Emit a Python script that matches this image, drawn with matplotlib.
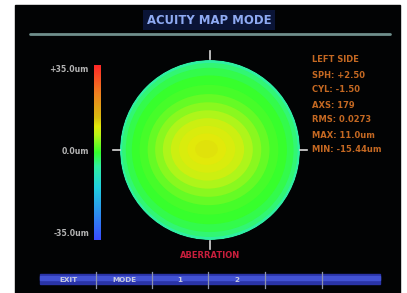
import numpy as np
import matplotlib
matplotlib.use("Agg")
import matplotlib.pyplot as plt
from matplotlib.colors import LinearSegmentedColormap, Normalize
from matplotlib.patches import Ellipse, Circle, Rectangle

# --- data ---
title = "ACUITY MAP MODE"
scale_min, scale_max = -35.0, 35.0
scale_ticks = [35.0, 0.0, -35.0]
scale_labels = ["+35.0um", "0.0um", "-35.0um"]

# concentric wavefront bands: relative radius -> height (um)
ring_radius = [1.00, 0.97, 0.92, 0.84, 0.74, 0.64, 0.55, 0.46, 0.37, 0.28, 0.19, 0.11]
ring_value = [-6.0, -3.5, -1.5, 0.0, 1.0, 2.5, 4.5, 6.5, 8.5, 9.8, 10.6, 11.0]

info_lines = ["LEFT SIDE", "SPH: +2.50", "CYL: -1.50", "AXS: 179",
              "RMS: 0.0273", "MAX: 11.0um", "MIN: -15.44um"]
menu_labels = ["EXIT", "MODE", "1", "2", "", ""]

cmap = LinearSegmentedColormap.from_list(
    "acuity",
    [(0.0, "#3a4cff"), (0.3, "#20d0e0"), (0.42, "#30f0a0"), (0.5, "#34ff2c"),
     (0.6, "#b8f418"), (0.65, "#e2ea0a"), (0.7, "#d8bc10"), (0.84, "#f08020"),
     (1.0, "#ff2828")])
norm = Normalize(scale_min, scale_max)

fig = plt.figure(figsize=(4.07, 2.93), dpi=100)
fig.patch.set_facecolor("white")
ax = fig.add_axes([0, 0, 1, 1])
ax.set_xlim(0, 407)
ax.set_ylim(293, 0)
ax.axis("off")

# screen background
ax.add_patch(Rectangle((15, 5), 385, 288, color="#020304", zorder=0))

# title
ax.text(209, 20, title, ha="center", va="center", color="#8eaaf2",
        fontsize=8.4, fontweight="bold",
        bbox=dict(boxstyle="square,pad=0.3", fc="#0a1436", ec="none"))
ax.plot([30, 390], [34, 34], color="#6f8f8c", lw=2.0, solid_capstyle="round")

# wavefront map
cx, cy, R = 210, 150, 90
clip = Circle((cx, cy), R, transform=ax.transData)
for r, v in zip(ring_radius, ring_value):
    w = 2 * R * r * (1 + 0.16 * (1 - r))
    h = 2 * R * r * (1 - 0.10 * (1 - r))
    e = Ellipse((cx - 4 * (1 - r), cy - 1 * (1 - r)), w, h,
                color=cmap(norm(v)), lw=0, zorder=2)
    ax.add_patch(e)
    e.set_clip_path(clip)

# crosshair ticks
for (x0, y0, x1, y1) in [(cx, 51, cx, 59), (cx, 241, cx, 249),
                         (113, cy, 120, cy), (300, cy, 307, cy)]:
    ax.plot([x0, x1], [y0, y1], color="#d8d8d8", lw=1.2, zorder=3)

# colour scale bar
bar_top, bar_bot = 65, 240
grad = np.linspace(scale_max, scale_min, 256)[:, None]
ax.imshow(grad, extent=(94, 101, bar_bot, bar_top), cmap=cmap, norm=norm,
          aspect="auto", zorder=2)
for v, lab in zip(scale_ticks, scale_labels):
    y = bar_top + 5 + (scale_max - v) / (scale_max - scale_min) * (bar_bot - bar_top - 12)
    ax.text(89, y, lab, ha="right", va="center", color="#b4b4b4",
            fontsize=5.6, fontweight="bold")

# info text
for i, line in enumerate(info_lines):
    ax.text(312, 60 + i * 15, line, ha="left", va="center", color="#c46822",
            fontsize=6.0, fontweight="bold")

ax.text(210, 255, "ABERRATION", ha="center", va="center", color="#c81e3c",
        fontsize=6.0, fontweight="bold")

# bottom menu bar
ax.add_patch(Rectangle((40, 274), 340, 10, color="#2a34a8", zorder=1))
ax.add_patch(Rectangle((40, 276), 340, 4, color="#4252d4", zorder=1))
seps = [96, 152, 208, 265, 322]
for x in seps:
    ax.plot([x, x], [272, 288], color="#8e94ac", lw=0.9, zorder=2)
edges = [40] + seps + [380]
for i, lab in enumerate(menu_labels):
    ax.text((edges[i] + edges[i + 1]) / 2, 280, lab, ha="center", va="center",
            color="#c8cce0", fontsize=5.2, fontweight="bold", zorder=3)

fig.savefig("out.png", dpi=100, facecolor=fig.get_facecolor())
